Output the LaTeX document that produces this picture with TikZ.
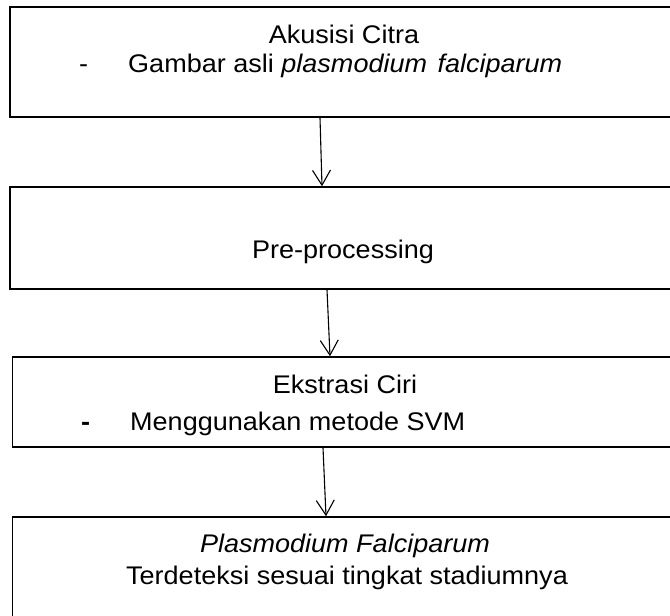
\documentclass[tikz,border=0pt]{standalone}
\usepackage{fontspec}
\setmainfont{Liberation Sans}[FakeStretch=1.06]
\usetikzlibrary{positioning, arrows.meta}

\begin{document}
\begin{tikzpicture}[x=1pt, y=-1pt,
    stage/.style={rectangle, draw, line width=1.5pt, inner sep=0pt},
    txt/.style={font=\fontsize{25.5}{29}\selectfont, inner sep=0pt, anchor=base},
    item/.style={font=\fontsize{25.5}{29}\selectfont, inner sep=0pt, anchor=base west},
    flow/.style={-{Straight Barb[length=15pt, width=18pt]}, line width=1.1pt}
]
\useasboundingbox (0,0) rectangle (670,616);

\node[stage, minimum width=670pt, minimum height=110pt] (citra) at (345,62) {};
\node[stage, minimum width=670pt, minimum height=102pt] (prepro) at (345,238) {};
\node[stage, minimum width=667.5pt, minimum height=90pt] (ciri) at (346.25,402) {};
\node[stage, minimum width=667.5pt, minimum height=123pt] (hasil) at (346.25,578.5) {};

\node[txt] (citratitle) at (344,43) {Akusisi Citra};
\node[item] (citradash) at (79,72) {-};
\node[item] (citraitem) at (128,72) {Gambar asli \textit{plasmodium\hspace{3pt} falciparum}};

\node[txt] (preprotitle) at (343,258) {Pre-processing};

\node[txt] (ciritle) at (345,393) {Ekstrasi Ciri};
\node[item] (ciridash) at (81,430) {\textbf{-}};
\node[item] (ciriitem) at (130,430) {Menggunakan\ metode\ SVM};

\node[txt] (hasiltitle) at (345,552) {\textit{Plasmodium Falciparum}};
\node[txt] (hasilitem) at (347,584) {Terdeteksi sesuai tingkat\ stadiumnya};

\draw[flow] ([xshift=-25pt]citra.south) -- ([xshift=-23pt]prepro.north);
\draw[flow] ([xshift=-18pt]prepro.south) -- ([xshift=-16.25pt]ciri.north);
\draw[flow] ([xshift=-23.25pt]ciri.south) -- ([xshift=-20.25pt]hasil.north);

\end{tikzpicture}
\end{document}
